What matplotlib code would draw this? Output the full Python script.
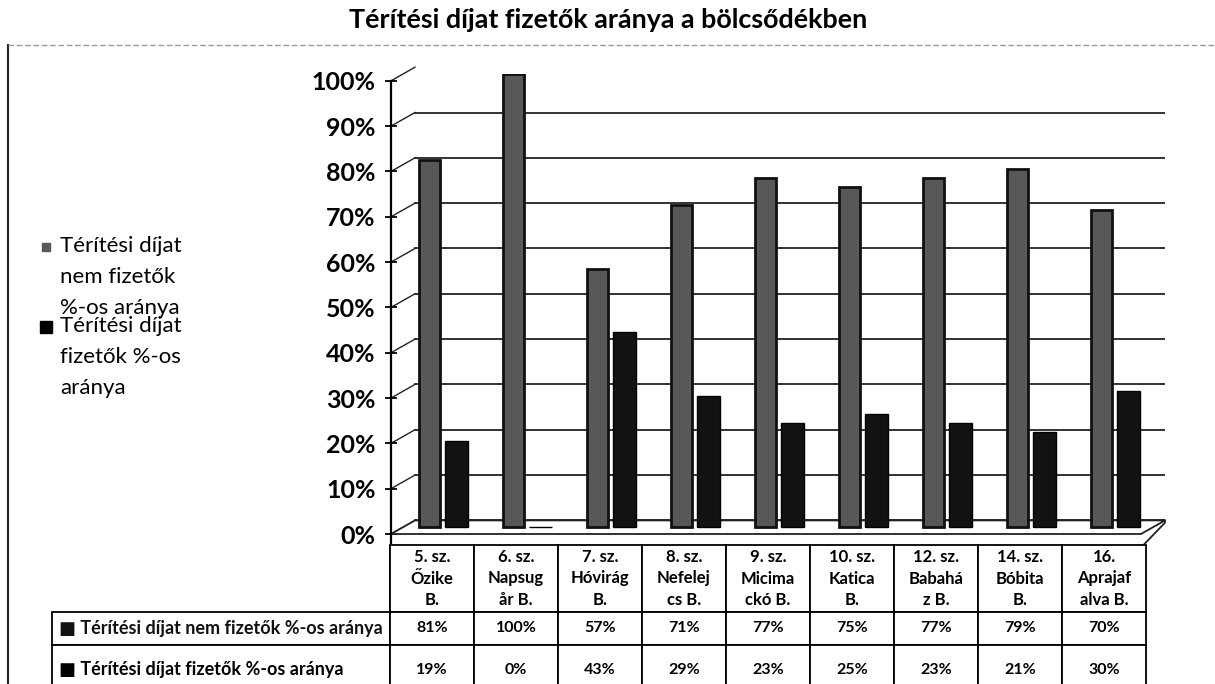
import numpy as np
import matplotlib
matplotlib.use("Agg")
import matplotlib.pyplot as plt
from matplotlib.lines import Line2D
from matplotlib.patches import Polygon
import matplotlib.transforms as mtrans

plt.rcParams['font.family'] = ['Lato', 'DejaVu Sans']

title = 'Térítési díjat fizetők aránya a bölcsődékben'
bolcsodek = ['5. sz.\nŐzike\nB.', '6. sz.\nNapsug\når B.', '7. sz.\nHóvirág\nB.',
             '8. sz.\nNefelej\ncs B.', '9. sz.\nMicima\nckó B.', '10. sz.\nKatica\nB.',
             '12. sz.\nBabahá\nz B.', '14. sz.\nBóbita\nB.', '16.\nAprajaf\nalva B.']
sorozat_nevek = ['Térítési díjat nem fizetők %-os aránya',
                 'Térítési díjat fizetők %-os aránya']
legend_cimkek = ['Térítési díjat\nnem fizetők\n%-os aránya',
                 'Térítési díjat\nfizetők %-os\naránya']
nem_fizetok = [81, 100, 57, 71, 77, 75, 77, 79, 70]
fizetok = [19, 0, 43, 29, 23, 25, 23, 21, 30]
y_ticks = [0, 10, 20, 30, 40, 50, 60, 70, 80, 90, 100]

W, H = 1215, 684
def fx(px):
    return px / W
def fy(py):
    return 1 - py / H

gray = '#585858'
dark = '#121212'

fig = plt.figure(figsize=(12.15, 6.84), dpi=100)

# chart area frame
fig.add_artist(Line2D([fx(8), fx(8)], [fy(45), 0], color='#222', lw=1.5))
fig.add_artist(Line2D([fx(8), 1], [fy(45), fy(45)], color='#999', lw=1, ls=(0, (4, 2))))

fig.text(fx(608), fy(20), title, ha='center', va='center', fontsize=19.4, fontweight='bold')

# plot (data space = middle depth of the 3d box)
ax = fig.add_axes([fx(391), fy(534), fx(1165) - fx(391), fy(74) - fy(534)])
x = np.arange(len(nem_fizetok))
ax.bar(x - 0.04, nem_fizetok, width=0.25, color=gray, edgecolor='#111', lw=2, zorder=3)
ax.bar(x + 0.28, fizetok, width=0.27, color=dark, edgecolor='#000', lw=1, zorder=3)
ax.set_xlim(-0.5, -0.5 + 774 / 84)
ax.set_ylim(0, 100)
ax.set_xticks([])
off = 1.5  # front / back shift of the 3d walls
ax.set_yticks([v - off for v in y_ticks])
ax.set_yticklabels([f'{v}%' for v in y_ticks], fontsize=18, fontweight='bold')
ax.tick_params(axis='y', direction='inout', length=8, width=1.3, pad=7)
for s in ['top', 'right', 'bottom']:
    ax.spines[s].set_visible(False)
ax.spines['left'].set_linewidth(1.6)
ax.spines['left'].set_bounds(-off - 2, 100 - off)

tr = mtrans.blended_transform_factory(ax.transAxes, ax.transData)
d = 24 / 774
for v in y_ticks:
    ax.axhline(v + off, xmin=d, xmax=1, color='#222', lw=1.3, zorder=1)
    ax.plot([0, d], [v - off, v + off], color='#222', lw=1, transform=tr, clip_on=False, zorder=1)
floor = Polygon([[0, -off], [d, off], [1, off], [1 - d, -off]], closed=True,
                facecolor='white', edgecolor='#222', lw=1.3, transform=tr, clip_on=False, zorder=2)
ax.add_patch(floor)
ax.plot([0, 1 - d, 1, 1], [-off - 3, -off - 3, off - 0.5, off],
        color='#222', lw=1.3, transform=tr, clip_on=False, zorder=2)

# legend (drawn by hand to keep the tight Excel layout)
lx_marker, lx_text = 46, 60
for lab, col, ms, ytop in [(legend_cimkek[0], gray, 6, 236), (legend_cimkek[1], '#000', 9, 316)]:
    fig.text(fx(lx_text), fy(ytop), lab, ha='left', va='top', fontsize=16, linespacing=1.68)
    fig.add_artist(Line2D([fx(lx_marker)], [fy(ytop + 11)], marker='s', ls='',
                          color=col, markersize=ms))

# data table
tax = fig.add_axes([fx(52), fy(695), fx(1146) - fx(52), fy(545) - fy(695)])
tax.axis('off')
rows = [[''] + bolcsodek,
        ['■ ' + sorozat_nevek[0]] + [f'{v}%' for v in nem_fizetok],
        ['■ ' + sorozat_nevek[1]] + [f'{v}%' for v in fizetok]]
col_w = [338] + [84] * len(bolcsodek)
tbl = tax.table(cellText=rows, colWidths=[c / sum(col_w) for c in col_w],
                cellLoc='center', bbox=[0, 0, 1, 1])
tbl.auto_set_font_size(False)
tbl.set_fontsize(11.5)
heights = [67, 33, 50]
for (r, c), cell in tbl.get_celld().items():
    cell.set_height(heights[r] / sum(heights))
    cell.set_linewidth(1.3)
    cell.get_text().set_fontweight('bold')
    cell.get_text().set_linespacing(1.45)
    if r == 0:
        cell.get_text().set_fontsize(12)
    if c == 0:
        cell._loc = 'left'
        cell.PAD = 0.02
        cell.get_text().set_ha('left')
        cell.get_text().set_fontsize(13)
    if r == 0 and c == 0:
        cell.visible_edges = 'R'
    if r == 2:
        cell.visible_edges = 'LRT'
tbl[1, 0].get_text().set_color('#111')

fig.savefig('out.png', dpi=100)
